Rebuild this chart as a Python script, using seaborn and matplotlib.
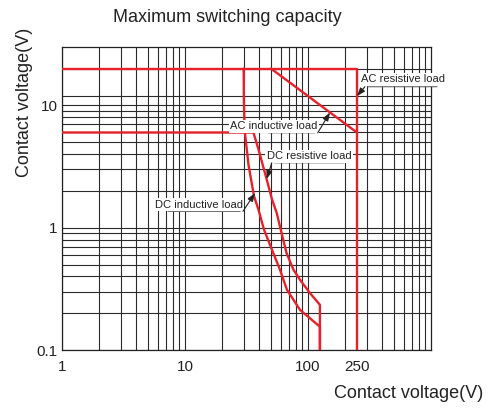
import numpy as np
import pandas as pd
import matplotlib
matplotlib.use("Agg")
import matplotlib.pyplot as plt
import seaborn as sns

# Kurven (x = Spannung, y = Wert auf der log-Achse)
ac_res_x = [1, 250, 250]
ac_res_y = [20, 20, 0.1]

ac_ind_x = [50, 250]
ac_ind_y = [20, 6]

dc_ind_x = [30, 30.1, 30.5, 32.8, 36.4, 39.6, 43.9, 52.2, 59.2, 67.5, 86.1, 125, 125]
dc_ind_y = [20, 11.2, 6.36, 3.28, 1.81, 1.40, 0.963, 0.621, 0.453, 0.310, 0.213, 0.155, 0.1]

dc_res_x = [1, 36, 39.6, 46.2, 51, 55.7, 59.2, 66.9, 76.2, 86.1, 103.8, 125, 125]
dc_res_y = [6, 6, 4.36, 2.47, 1.70, 1.32, 1.02, 0.621, 0.453, 0.375, 0.292, 0.234, 0.1]

x_ticks = [1, 10, 100, 250]
x_ticklabels = ["1", "10", "100", "250"]
y_ticks = [0.1, 1, 10]
y_ticklabels = ["0.1", "1", "10"]

# Beschriftungen: Text, Textmitte, Unterstrich (x0, x1, y), Pfeilspitze, Pfeil startet rechts?
labels = [
    ("AC resistive load", (592, 16.3), (290, 1180, 14.2), (250, 11.9), False),
    ("AC inductive load", (52.9, 6.73), (45, 120, 5.97), (151, 8.75), True),
    ("DC resistive load", (101.9, 3.82), (50.7, 206, 3.39), (46.2, 2.5), False),
    ("DC inductive load", (12.9, 1.54), (6.9, 29.6, 1.36), (37.1, 1.92), True),
]

frames = []
for name, xs, ys in [("AC resistive", ac_res_x, ac_res_y),
                     ("AC inductive", ac_ind_x, ac_ind_y),
                     ("DC inductive", dc_ind_x, dc_ind_y),
                     ("DC resistive", dc_res_x, dc_res_y)]:
    frames.append(pd.DataFrame({"x": xs, "y": ys, "load": name, "order": range(len(xs))}))
df = pd.concat(frames, ignore_index=True)

sns.set_style("white")
plt.rcParams["font.family"] = ["Liberation Sans", "DejaVu Sans"]

fig = plt.figure(figsize=(4.92, 4.08), dpi=100)
ax = fig.add_axes([62 / 492, 1 - 350 / 408, (431 - 62) / 492, (350 - 47) / 408])

red = "#e8202a"
sns.lineplot(data=df, x="x", y="y", hue="load", units="load", estimator=None, sort=False,
             palette=[red] * 4, linewidth=1.7, legend=False, ax=ax, zorder=3)

ax.set_xscale("log")
ax.set_yscale("log")
ax.set_xlim(1, 1000)
ax.set_ylim(0.1, 30)

ax.set_xticks(x_ticks)
ax.set_xticklabels(x_ticklabels)
ax.set_yticks(y_ticks)
ax.set_yticklabels(y_ticklabels)
ax.set_xticks([m * 10 ** e for e in range(3) for m in range(2, 10)] + [10, 100], minor=True)
ax.set_yticks([m * 10 ** e for e in (-1, 0) for m in range(2, 10)] + [12, 20], minor=True)
ax.set_xticklabels([], minor=True)
ax.set_yticklabels([], minor=True)
ax.tick_params(which="both", length=0)
ax.tick_params(axis="x", pad=7, labelsize=11, colors="#222")
ax.tick_params(axis="y", pad=3, labelsize=11, colors="#222")

ax.grid(which="both", color="#2a2a2a", linewidth=0.8)
# an 250 liegt nur die rote Linie
for gl, v in zip(ax.xaxis.get_gridlines(), x_ticks):
    if v == 250:
        gl.set_visible(False)
for s in ax.spines.values():
    s.set_color("#222")
    s.set_linewidth(0.9)
ax.set_xlabel("")
ax.set_ylabel("")

for text, (tx, ty), (ux0, ux1, uy), tip, from_right in labels:
    ax.annotate("", xy=(ux1, uy), xytext=(ux0, uy), annotation_clip=False,
                arrowprops=dict(arrowstyle="-", color="#666", lw=0.8), zorder=4)
    ax.text(tx, ty, text, ha="center", va="center", fontsize=8, color="#222",
            bbox=dict(facecolor="white", edgecolor="none", pad=1.2), zorder=5, clip_on=False)
    ax.annotate("", xy=tip, xytext=(ux1 if from_right else ux0, uy), annotation_clip=False,
                arrowprops=dict(arrowstyle="-|>,head_length=0.5,head_width=0.18", color="#222",
                                lw=0.8, shrinkA=0, shrinkB=0), zorder=6)

fig.text(227 / 492, 1 - 17 / 408, "Maximum switching capacity", ha="center", va="center",
         fontsize=13, color="#222")
fig.text(25 / 492, 1 - 102 / 408, "Contact voltage(V)", ha="center", va="center",
         rotation=90, fontsize=13, color="#222")
fig.text(483 / 492, 1 - 393 / 408, "Contact voltage(V)", ha="right", va="center",
         fontsize=13, color="#222")

fig.savefig("out.png", dpi=100)
